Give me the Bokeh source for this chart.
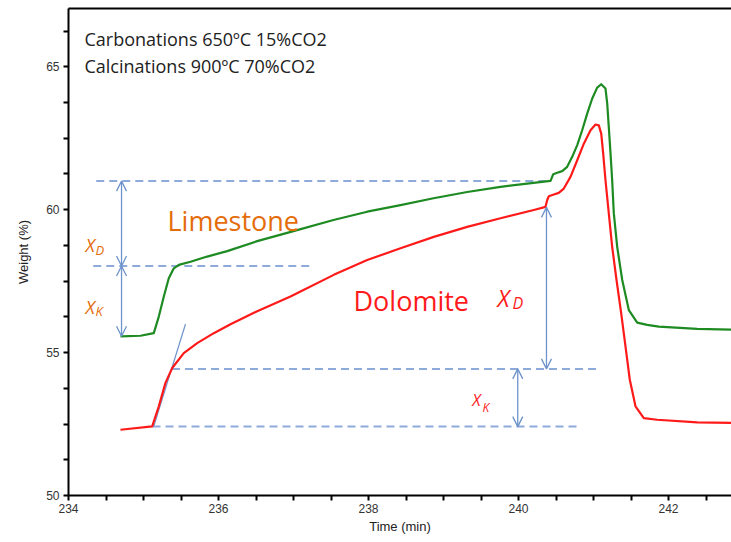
import numpy as np
from bokeh.plotting import figure
from bokeh.models import Range1d, LinearAxis, FixedTicker, Arrow, OpenHead
from bokeh.core.properties import value
from bokeh.embed import file_html
from bokeh.resources import INLINE

# ---- data ----
green_t = [234.693, 234.96, 235.137, 235.204, 235.271, 235.337, 235.404, 235.471, 235.627, 235.849,
           236.116, 236.516, 237.0, 237.533, 237.983, 238.427, 238.867, 239.316, 239.76, 240.2,
           240.427, 240.463, 240.516, 240.583, 240.649, 240.716, 240.783, 240.849, 240.916, 240.983,
           241.049, 241.103, 241.16, 241.183, 241.204, 241.227, 241.249, 241.271, 241.316, 241.383,
           241.471, 241.583, 241.716, 241.871, 242.383, 242.84]
green_w = [55.57, 55.59, 55.68, 56.26, 56.96, 57.60, 57.95, 58.07, 58.18, 58.36,
           58.55, 58.90, 59.25, 59.64, 59.93, 60.16, 60.40, 60.62, 60.80, 60.94,
           61.01, 61.24, 61.29, 61.35, 61.50, 61.85, 62.26, 62.78, 63.36, 63.89,
           64.27, 64.39, 64.24, 63.71, 62.89, 61.97, 61.03, 59.87, 58.70, 57.54,
           56.49, 56.05, 55.97, 55.91, 55.83, 55.80]

red_t = [234.693, 235.116, 235.204, 235.293, 235.383, 235.537, 235.716, 235.937, 236.16, 236.516,
         236.96, 237.093, 237.537, 237.983, 238.427, 238.871, 239.316, 239.76, 240.204, 240.36,
         240.383, 240.404, 240.471, 240.537, 240.604, 240.693, 240.783, 240.871, 240.96, 241.027,
         241.071, 241.103, 241.129, 241.16, 241.204, 241.249, 241.307, 241.369, 241.427, 241.484,
         241.56, 241.671, 241.849, 242.383, 242.84]
red_w = [52.30, 52.42, 53.12, 53.94, 54.46, 54.98, 55.33, 55.68, 55.99, 56.45,
         56.96, 57.14, 57.72, 58.24, 58.65, 59.05, 59.40, 59.70, 59.99, 60.10,
         60.34, 60.47, 60.53, 60.59, 60.74, 61.15, 61.73, 62.31, 62.78, 62.98,
         62.95, 62.66, 61.97, 61.03, 59.87, 58.70, 57.54, 56.38, 55.21, 54.05,
         53.12, 52.71, 52.65, 52.56, 52.54]

# axis ticks (labelled every 2 min / 5 %, unlabelled in between)
x_ticks = [float(t) for t in np.arange(234, 243.01, 0.5)]
x_labelled = [234, 236, 238, 240, 242]
y_ticks = [float(t) for t in np.arange(50, 67.01, 1.25)]
y_labelled = [50, 55, 60, 65]

# reference (dashed) levels
dash_y = [61.0, 58.03, 54.43, 52.41]
dash_x0 = [234.37, 234.33, 235.38, 235.12]
dash_x1 = [240.37, 237.23, 241.05, 240.78]

# double arrows: x, y_start, y_end
arrow_x = [234.707, 234.707, 240.373, 239.99]
arrow_y0 = [61.0, 58.03, 60.08, 54.43]
arrow_y1 = [58.03, 55.57, 54.43, 52.41]

# tangent line
tan_t = [235.137, 235.56]
tan_w = [52.42, 56.0]

GREEN = "#1E8B22"
RED = "#FF1A1A"
ORANGE = "#E46C0A"
BLUE_DASH = "#8EAADB"
BLUE_ARROW = "#6E93CB"

p = figure(width=731, height=542, x_range=Range1d(234, 242.84), y_range=Range1d(50, 67.04),
           output_backend="svg", toolbar_location=None,
           min_border_left=68, min_border_right=0, min_border_top=8, min_border_bottom=47)
p.grid.visible = False
p.outline_line_color = None
p.background_fill_color = "white"
p.border_fill_color = "white"


def overrides(ticks, labelled):
    out = {}
    for t in ticks:
        key = float(round(t, 3))
        if any(abs(t - l) < 1e-6 for l in labelled):
            out[key] = str(int(round(t)))
        else:
            out[key] = ""
    return out


xa = p.xaxis[0]
xa.ticker = FixedTicker(ticks=x_ticks, minor_ticks=[])
xa.major_label_overrides = overrides(x_ticks, x_labelled)
ya = p.yaxis[0]
ya.ticker = FixedTicker(ticks=y_ticks, minor_ticks=[])
ya.major_label_overrides = overrides(y_ticks, y_labelled)
for ax in (xa, ya):
    ax.axis_line_width = 2
    ax.axis_line_color = "black"
    ax.major_tick_line_color = "black"
    ax.major_tick_line_width = 2
    ax.major_tick_in = 0
    ax.minor_tick_out = 0
    ax.minor_tick_in = 0
    ax.major_label_text_font = "Liberation Sans"
    ax.major_label_text_font_size = "12px"
    ax.major_label_text_color = "#333333"
    ax.axis_label_text_font = "Liberation Sans"
    ax.axis_label_text_font_size = "13px"
    ax.axis_label_text_font_style = "normal"
    ax.axis_label_text_color = "#222222"
xa.major_tick_out = 5
xa.major_label_standoff = 3
xa.axis_label = "Time (min)"
xa.axis_label_standoff = 3
ya.major_tick_out = 5
ya.major_label_standoff = 4
ya.axis_label = "Weight (%)"
ya.axis_label_standoff = 12

top = LinearAxis(ticker=FixedTicker(ticks=[]), major_tick_out=0, minor_tick_out=0,
                 major_label_text_font_size="0px", axis_line_width=2, axis_line_color="black")
p.add_layout(top, "above")

# dashed guide lines
p.segment(x0=dash_x0, y0=dash_y, x1=dash_x1, y1=dash_y, line_color=BLUE_DASH,
          line_width=2, line_dash="8 5")
# tangent
p.line(tan_t, tan_w, line_color=BLUE_ARROW, line_width=1.2)

# curves
p.line(green_t, green_w, line_color=GREEN, line_width=2.2, line_join="round")
p.line(red_t, red_w, line_color=RED, line_width=2.2, line_join="round")

# arrows
for xv, a0, a1 in zip(arrow_x, arrow_y0, arrow_y1):
    p.add_layout(Arrow(x_start=xv, y_start=a0, x_end=xv, y_end=a1, line_color=BLUE_ARROW, line_width=1.3,
                       start=OpenHead(size=10, line_color=BLUE_ARROW, line_width=1.3),
                       end=OpenHead(size=10, line_color=BLUE_ARROW, line_width=1.3)))

F = value("Open Sans")
# header text
p.text(x=[234.213, 234.213], y=[65.98, 65.02],
       text=["Carbonations 650ºC 15%CO2", "Calcinations 900ºC 70%CO2"],
       text_font=F, text_font_size=value("18px"), text_color="#222222",
       text_baseline="alphabetic", text_align="left")
# sample names
p.text(x=[235.32], y=[59.61], text=["Limestone"], text_font=F, text_font_size=value("27px"),
       text_color=ORANGE, text_baseline="alphabetic")
p.text(x=[237.80], y=[56.82], text=["Dolomite"], text_font=F, text_font_size=value("27px"),
       text_color=RED, text_baseline="alphabetic")

# X labels (main letter + subscript)
p.text(x=[234.227, 234.227], y=[58.76, 56.61], text=["X", "X"], text_font=F,
       text_font_size=value("18px"), text_font_style="italic", text_color=ORANGE, text_baseline="alphabetic")
p.text(x=[234.36, 234.36], y=[58.59, 56.44], text=["D", "K"], text_font=F,
       text_font_size=value("13px"), text_font_style="italic", text_color=ORANGE, text_baseline="alphabetic")
p.text(x=[239.72], y=[56.90], text=["X"], text_font=F, text_font_size=value("23px"),
       text_font_style="italic", text_color=RED, text_baseline="alphabetic")
p.text(x=[239.92], y=[56.74], text=["D"], text_font=F, text_font_size=value("16px"),
       text_font_style="italic", text_color=RED, text_baseline="alphabetic")
p.text(x=[239.383], y=[53.35], text=["X"], text_font=F, text_font_size=value("16px"),
       text_font_style="italic", text_color=RED, text_baseline="alphabetic")
p.text(x=[239.52], y=[53.07], text=["K"], text_font=F, text_font_size=value("12px"),
       text_font_style="italic", text_color=RED, text_baseline="alphabetic")

open("out.html", "w").write(file_html(p, INLINE))
